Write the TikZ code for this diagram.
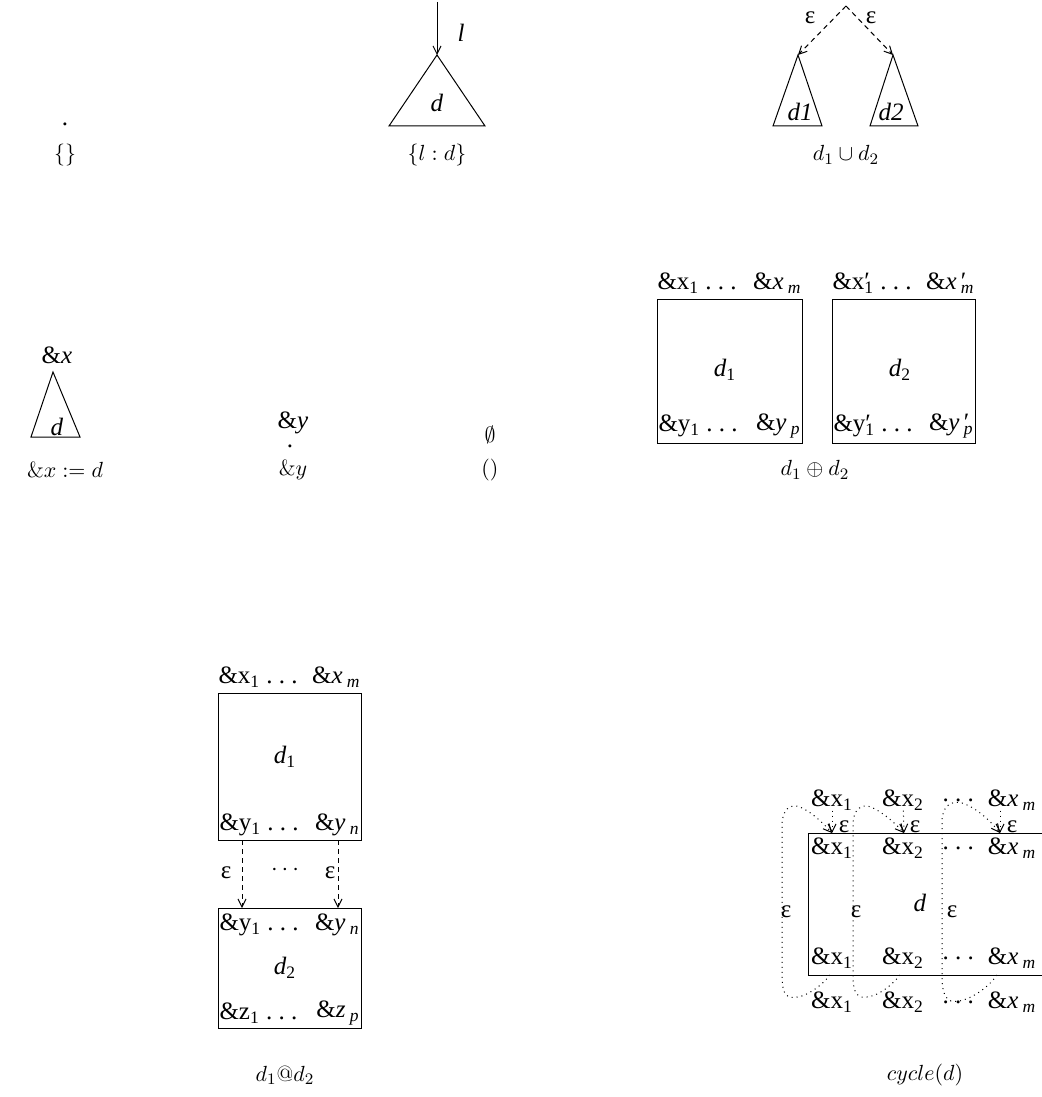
\documentclass[tikz,border=0pt]{standalone}
\usepackage{fontspec}
\newfontfamily\tms{Liberation Serif}
\usetikzlibrary{arrows.meta}
\newcommand{\ra}[2]{\&#1\textsubscript{#2}}
\newcommand{\ia}[2]{\&\textit{#1}\,\textsubscript{\textit{#2}}}
\newcommand{\rap}[2]{\&#1\rlap{′}\textsubscript{#2}}
\newcommand{\iap}[2]{\&\textit{#1}\rlap{\,′}\,\textsubscript{\textit{#2}}}
\newcommand{\dts}{\ .\ .\ .}
\tikzset{
  txt/.style={font=\tms\fontsize{12.5}{14}\selectfont, inner sep=0pt},
  formula/.style={font=\fontsize{11}{13}\selectfont, inner sep=0pt},
  solidarr/.style={-{Straight Barb[length=4pt,width=4pt]}},
  dasharr/.style={dash pattern=on 2.5pt off 2pt, -{Straight Barb[length=4pt,width=4pt]}},
  dotarr/.style={dotted, -{Straight Barb[length=4pt,width=4pt]}},
}
\begin{document}
\begin{tikzpicture}[x=0.5pt, y=-0.5pt, line width=0.5pt]
  \useasboundingbox (0,0) rectangle (1042,1097);
  % empty record
  \node[txt] (nil) at (65,124) {.};
  \node[formula] (nilcap) at (65,155) {$\{\}$};
  % singleton edge l into d
  \coordinate (ltop) at (437,2);
  \coordinate (lapex) at (437,55);
  \draw (lapex) -- (389,126) -- (485,126) -- cycle;
  \draw[solidarr] (ltop) -- (lapex);
  \node[txt] (l) at (461,33) {\textit{l}};
  \node[txt] (ld) at (437,103) {\textit{d}};
  \node[formula] (ldcap) at (437,155) {$\{l:d\}$};
  % union of two trees
  \coordinate (uroot) at (846,6);
  \coordinate (uapexa) at (798,55);
  \coordinate (uapexb) at (893,55);
  \draw (uapexa) -- (773,126) -- (822,126) -- cycle;
  \draw (uapexb) -- (870,126) -- (918,126) -- cycle;
  \draw[dasharr] (uroot) -- (uapexa);
  \draw[dasharr] (uroot) -- (uapexb);
  \node[txt] (uepsa) at (810,18) {ε};
  \node[txt] (uepsb) at (871,18) {ε};
  \node[txt] (uda) at (800,112) {\textit{d1}};
  \node[txt] (udb) at (891,112) {\textit{d2}};
  \node[formula] (ucap) at (846,155) {$d_1\cup d_2$};

  % named root
  \node[txt] (nx) at (57,355) {\&\textit{x}};
  \coordinate (napex) at (53,372);
  \draw (napex) -- (31,437) -- (80,437) -- cycle;
  \node[txt] (nd) at (57,427) {\textit{d}};
  \node[formula] (ncap) at (65,470) {$\&x := d$};
  % reference
  \node[txt] (ry) at (293,423) {\&\textit{y}};
  \node[txt] (rdot) at (290,446) {.};
  \node[formula] (rcap) at (293,470) {$\&y$};
  % empty graph
  \node[formula] (empty) at (490,435) {$\emptyset$};
  \node[formula] (emptycap) at (490,470) {$()$};
  % disjoint union of two graphs
  \draw (657,299) rectangle (802,443);
  \draw (832,299) rectangle (975,443);
  \node[txt, anchor=west] (pxa) at (657,283) {\ra{x}{1}\dts};
  \node[txt, anchor=east] (pxm) at (802,283) {\ia{x}{m}};
  \node[txt, anchor=west] (pya) at (658,426) {\ra{y}{1}\dts};
  \node[txt, anchor=east] (pyp) at (801,426) {\ia{y}{p}};
  \node[txt] (pda) at (725,370) {\textit{d}\textsubscript{1}};
  \node[txt, anchor=west] (qxa) at (832,283) {\rap{x}{1}\dts};
  \node[txt, anchor=east] (qxm) at (975,283) {\iap{x}{m}};
  \node[txt, anchor=west] (qya) at (833,426) {\rap{y}{1}\dts};
  \node[txt, anchor=east] (qyp) at (974,426) {\iap{y}{p}};
  \node[txt] (qdb) at (900,370) {\textit{d}\textsubscript{2}};
  \node[formula] (pcap) at (815,470) {$d_1\oplus d_2$};

  % append d2 below d1
  \draw (218,693) rectangle (361,840);
  \draw (218,908) rectangle (361,1028);
  \node[txt, anchor=west] (axa) at (218,677) {\ra{x}{1}\dts};
  \node[txt, anchor=east] (axm) at (361,677) {\ia{x}{m}};
  \node[txt] (ada) at (285,757) {\textit{d}\textsubscript{1}};
  \node[txt, anchor=west] (aya) at (219,825) {\ra{y}{1}\dts};
  \node[txt, anchor=east] (ayn) at (360,825) {\ia{y}{n}};
  \node[txt, anchor=west] (bya) at (219,925) {\ra{y}{1}\dts};
  \node[txt, anchor=east] (byn) at (360,925) {\ia{y}{n}};
  \node[txt] (bdb) at (285,968) {\textit{d}\textsubscript{2}};
  \node[txt, anchor=west] (bza) at (219,1013) {\ra{z}{1}\dts};
  \node[txt, anchor=east] (bzp) at (360,1013) {\ia{z}{p}};
  \coordinate (aouta) at (242,840);
  \coordinate (aoutn) at (338,840);
  \coordinate (bina) at (242,908);
  \coordinate (binn) at (338,908);
  \draw[dasharr] (aouta) -- (bina);
  \draw[dasharr] (aoutn) -- (binn);
  \node[txt] (aepsa) at (226,873) {ε};
  \node[txt] (adots) at (285,870) {$\cdots$};
  \node[txt] (aepsn) at (330,873) {ε};
  \node[formula] (acap) at (285,1075) {$d_1@d_2$};

  % cycle: outputs fed back to inputs
  \draw (808,833) rectangle (1050,975);
  \node[txt] (cxa) at (832,800) {\ra{x}{1}};
  \node[txt] (cxb) at (903,800) {\ra{x}{2}};
  \node[txt] (cxd) at (955,800) {\dts};
  \node[txt] (cxm) at (1012,800) {\ia{x}{m}};
  \node[txt] (ixa) at (832,848) {\ra{x}{1}};
  \node[txt] (ixb) at (903,848) {\ra{x}{2}};
  \node[txt] (ixd) at (955,848) {\dts};
  \node[txt] (ixm) at (1012,848) {\ia{x}{m}};
  \node[txt] (cd) at (920,903) {\textit{d}};
  \node[txt] (oxa) at (832,958) {\ra{x}{1}};
  \node[txt] (oxb) at (903,958) {\ra{x}{2}};
  \node[txt] (oxd) at (955,958) {\dts};
  \node[txt] (oxm) at (1012,958) {\ia{x}{m}};
  \node[txt] (exa) at (832,1002) {\ra{x}{1}};
  \node[txt] (exb) at (903,1002) {\ra{x}{2}};
  \node[txt] (exd) at (955,1002) {\dts};
  \node[txt] (exm) at (1012,1002) {\ia{x}{m}};
  \coordinate (cina) at (832,833);
  \coordinate (cinb) at (904,833);
  \coordinate (cinm) at (1000,833);
  \coordinate (couta) at (830,975);
  \coordinate (coutb) at (900,975);
  \coordinate (coutm) at (997,975);
  \draw[dotarr] (cxa) -- (cina);
  \draw[dotarr] (cxb) -- (cinb);
  \draw[dotarr] (cxm.south -| cinm) -- (cinm);
  \draw[dotarr] (couta) .. controls (818,990) and (800,1000) .. (789,997)
    .. controls (784,995) and (782,988) .. (782,975) -- (782,825)
    .. controls (782,810) and (790,803) .. (800,807)
    .. controls (812,812) and (825,825) .. (cina);
  \draw[dotarr] (coutb) .. controls (888,990) and (872,999) .. (861,997)
    .. controls (855,995) and (853,988) .. (853,975) -- (853,825)
    .. controls (853,810) and (861,803) .. (871,807)
    .. controls (883,812) and (897,825) .. (cinb);
  \draw[dotarr] (coutm) .. controls (985,992) and (962,1004) .. (951,1001)
    .. controls (945,999) and (942,990) .. (942,978) -- (942,822)
    .. controls (942,807) and (950,800) .. (962,803)
    .. controls (978,808) and (993,824) .. (cinm);
  \node[txt] (cepsa) at (844,827) {ε};
  \node[txt] (cepsb) at (915,827) {ε};
  \node[txt] (cepsm) at (1012,827) {ε};
  \node[txt] (lepsa) at (786,912) {ε};
  \node[txt] (lepsb) at (856,912) {ε};
  \node[txt] (lepsm) at (952,912) {ε};
  \node[formula] (ccap) at (925,1075) {$cycle(d)$};
\end{tikzpicture}
\end{document}
